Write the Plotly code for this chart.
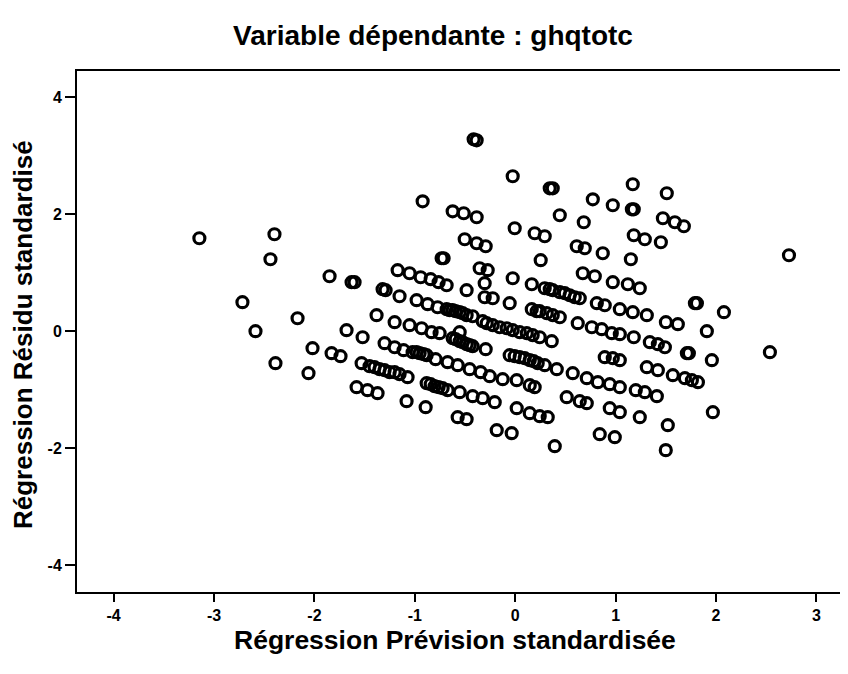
import plotly.graph_objects as go

# Standardized predicted values (x) and standardized residuals (y)
prevision = [
    -3.146, -2.398, -2.438, -1.849, -2.717, -2.168, -2.587, -2.019, -1.829, -2.388, -2.059,
    -0.922, -0.623, -0.513, -0.384, -0.503, -0.384, -0.294, -0.733, -0.713, -0.354, -0.274,
    -1.630, -1.600, -1.171, -1.052, -0.942, -0.842, -0.763, -0.683, -0.484, -0.304,
    -1.321, -1.291, -1.152, -0.982, -0.872, -0.773, -0.683, -0.623, -0.553, -0.484, -0.424,
    -0.304, -0.224, -1.381, -1.680, -0.324, -1.520, -1.201, -1.052, -0.932, -0.833, -0.753,
    -0.553, -0.623, -0.553, -0.484, -0.424, -0.294, -1.740, -1.301, -1.201, -1.112, -1.022,
    -0.952, -0.882, -0.793, -0.673, -0.573, -0.454, -0.344, -0.254, -1.530, -1.451, -1.351,
    -1.251, -1.152, -1.072, -1.580, -1.471, -1.371, -0.882, -0.803, -0.723, -0.673, -0.553,
    -0.424, -0.324, -1.082, -0.892, -0.573, -0.484,
    -0.414, -0.384, -0.025, 0.344, 0.374, 1.171, 0.773, 0.972, 1.162, 1.181, 0.444, 0.683,
    -0.005, 0.194, 0.294, 1.181, 1.291, 0.613, 0.693, 0.872, 1.152, 0.254, 0.673, 0.793,
    0.972, 1.122, 1.241, -0.025, 0.165, 0.294, 0.374, 0.444, 0.543, 0.643, -0.055, 0.165,
    0.244, 0.314, 0.444, 0.623, 0.813, 0.892, 1.042, 1.171,
    -0.284, -0.224, -0.155, -0.085, -0.025, 0.045, 0.115, 0.174, 0.244, 0.364, 0.763, 0.862,
    0.962, 1.042, 1.181, -0.055, 0.045, 0.145, 0.224, 0.294, 0.414, 0.573, 0.713, 0.823,
    0.942, 1.042, 0.892, 0.972, 1.042, 1.201, -0.125, 0.015, 0.145, 0.194, -0.204, 0.015,
    0.145, 0.244, 0.324, 0.513, 0.643, 0.713, 0.942, 1.042, 1.241, -0.184, -0.035, 0.842,
    0.992, 0.394,
    1.510, 1.471, 1.590, 1.680, 1.451, 2.727, 1.790, 1.810, 2.079, 1.311, 1.501, 1.620,
    1.909, 1.341, 1.421, 1.491, 1.710, 1.730, 1.959, 2.537, 1.311, 1.421, 1.570, 1.690,
    1.760, 1.820, 1.291, 1.411, 1.969, 1.520, 1.500,
    # points hidden inside the solid clusters
    -0.653, -0.593, -0.523, -0.005, 0.095, 0.184, -1.401, -1.301, -1.201, -0.982, -0.912,
    -0.842, -0.763, 0.344, 0.494, 0.593, 0.214, 0.374, -0.593, -0.523, -0.454,
]
residu = [
    1.590, 1.658, 1.231, 0.940, 0.496, 0.222, 0.000, -0.291, -0.376, -0.547, -0.718,
    2.222, 2.051, 2.017, 1.949, 1.573, 1.504, 1.453, 1.248, 1.248, 1.077, 1.043,
    0.838, 0.838, 1.043, 0.991, 0.923, 0.889, 0.838, 0.786, 0.701, 0.821,
    0.718, 0.701, 0.598, 0.530, 0.462, 0.410, 0.376, 0.359, 0.325, 0.274, 0.256,
    0.581, 0.564, 0.274, 0.017, 0.171, -0.103, 0.154, 0.103, 0.051, -0.017, -0.034,
    -0.017, -0.120, -0.171, -0.222, -0.256, -0.308, -0.427, -0.205, -0.274, -0.325, -0.359,
    -0.376, -0.410, -0.479, -0.530, -0.581, -0.650, -0.701, -0.769, -0.547, -0.598, -0.650,
    -0.701, -0.735, -0.786, -0.957, -1.009, -1.060, -0.889, -0.940, -0.974, -1.009, -1.043,
    -1.111, -1.145, -1.197, -1.299, -1.470, -1.504,
    3.282, 3.265, 2.650, 2.444, 2.444, 2.513, 2.256, 2.154, 2.085, 2.085, 1.983, 1.863,
    1.761, 1.675, 1.624, 1.641, 1.573, 1.453, 1.419, 1.333, 1.231, 1.214, 0.991, 0.940,
    0.838, 0.803, 0.735, 0.906, 0.803, 0.735, 0.701, 0.667, 0.615, 0.564, 0.479, 0.376,
    0.342, 0.308, 0.239, 0.137, 0.479, 0.444, 0.376, 0.325,
    0.137, 0.103, 0.068, 0.051, 0.017, -0.017, -0.034, -0.068, -0.103, -0.171, 0.068, 0.034,
    -0.034, -0.051, -0.103, -0.410, -0.444, -0.496, -0.547, -0.581, -0.650, -0.718, -0.803, -0.872,
    -0.906, -0.957, -0.444, -0.462, -0.496, -1.009, -0.821, -0.838, -0.923, -0.957, -1.214, -1.316,
    -1.402, -1.453, -1.470, -1.128, -1.197, -1.231, -1.316, -1.385, -1.470, -1.692, -1.744, -1.761,
    -1.812, -1.966,
    2.359, 1.932, 1.863, 1.795, 1.521, 1.299, 0.479, 0.479, 0.325, 0.274, 0.154, 0.120,
    0.000, -0.188, -0.222, -0.274, -0.376, -0.376, -0.496, -0.359, -0.615, -0.667, -0.752, -0.803,
    -0.838, -0.872, -1.043, -1.111, -1.385, -1.607, -2.034,
    # points hidden inside the solid clusters
    0.359, 0.342, 0.308, -0.427, -0.462, -0.513, -0.615, -0.667, -0.701, -0.359, -0.393,
    -0.906, -0.957, 0.718, 0.650, 0.581, 0.342, 0.274, -0.137, -0.188, -0.239,
]

x_ticks = [-4, -3, -2, -1, 0, 1, 2, 3]
y_ticks = [-4, -2, 0, 2, 4]

title_text = "Variable dépendante : ghqtotc"
x_title = "Régression Prévision standardisée"
y_title = "Régression Résidu standardisé"

FONT = "Liberation Sans, Arial, sans-serif"

# figure is placed by the page with an 8px body margin
W, H = 840, 666
L, T, B = 69, 63, 82
PW, PH = W - L, H - T - B

fig = go.Figure()
fig.add_trace(go.Scatter(
    x=prevision, y=residu, mode="markers",
    marker=dict(symbol="circle-open", size=11, color="black",
                line=dict(color="black", width=3.2)),
    showlegend=False, hoverinfo="x+y",
))

fig.update_layout(
    width=W, height=H,
    margin=dict(l=L, r=0, t=T, b=B, pad=0),
    paper_bgcolor="white", plot_bgcolor="white",
    font=dict(family=FONT, color="black"),
    title=dict(text=title_text, x=(433 - 8) / W, xanchor="center",
               y=1 - 27 / H, yanchor="middle",
               font=dict(size=28, family=FONT, color="black", weight="bold")),
    annotations=[
        dict(text=x_title, xref="paper", yref="paper",
             x=(455 - 8 - L) / PW, y=-(632 - (H - B)) / PH, xanchor="center", yanchor="middle",
             showarrow=False, font=dict(size=26.5, family=FONT, color="black", weight="bold")),
        dict(text=y_title, xref="paper", yref="paper",
             x=-(L - 15) / PW, y=((H - B) - 327) / PH, xanchor="center", yanchor="middle",
             textangle=-90, showarrow=False,
             font=dict(size=26, family=FONT, color="black", weight="bold")),
    ],
)
fig.update_xaxes(
    range=[-4.365, 3.315], tickvals=x_ticks, ticktext=[str(v) for v in x_ticks],
    showgrid=False, zeroline=False, showline=True, linecolor="black", linewidth=2,
    mirror=True, ticks="outside", ticklen=8, tickwidth=2, tickcolor="black",
    tickfont=dict(size=16, family=FONT, color="black", weight="bold"),
)
fig.update_yaxes(
    range=[-4.46, 4.45], tickvals=y_ticks, ticktext=[str(v) for v in y_ticks],
    showgrid=False, zeroline=False, showline=True, linecolor="black", linewidth=2,
    mirror=False, ticks="outside", ticklen=10, tickwidth=2, tickcolor="black",
    tickfont=dict(size=16, family=FONT, color="black", weight="bold"),
)

fig.write_html("out.html")
